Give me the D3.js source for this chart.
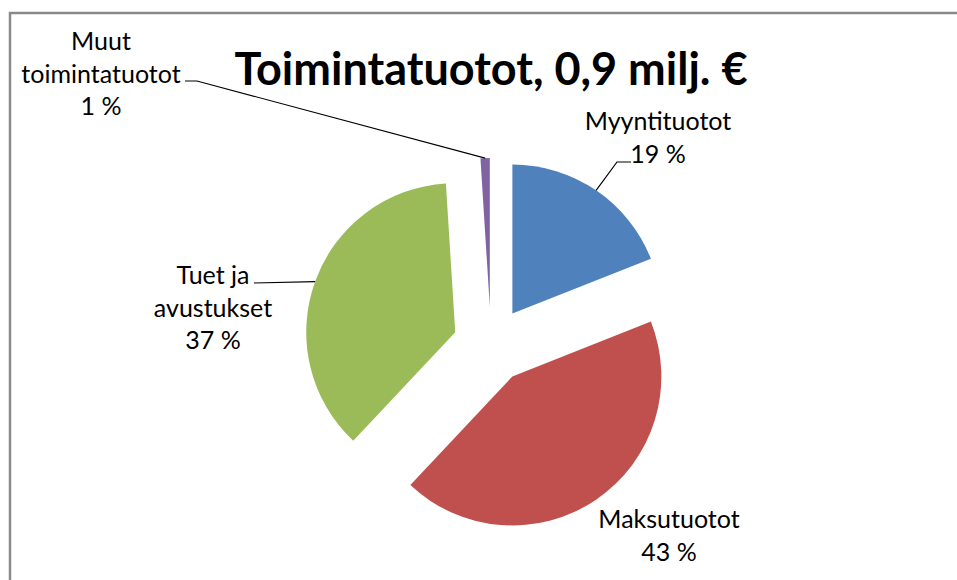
<!DOCTYPE html>
<html>
<head>
<meta charset="utf-8">
<script src="https://cdn.jsdelivr.net/npm/d3@7"></script>
<style>
  body { margin: 0; background: #fff; }
  svg { display: block; }
  text { font-family: Lato, "Open Sans", sans-serif; }
</style>
</head>
<body>
<svg id="chart" width="957" height="580"></svg>
<script>
// data
const title = 'Toimintatuotot, 0,9 milj. €'
const categories = ['Myyntituotot', 'Maksutuotot', 'Tuet ja avustukset', 'Muut toimintatuotot']
const shares = [19, 43, 37, 1]
const colors = ['#4f81bd', '#c0504d', '#9bbb59', '#8064a2']

// label layout: lines, anchor point, leader elbow points (null = no leader)
const labelLines = [['Myyntituotot', '19 %'], ['Maksutuotot', '43 %'], ['Tuet ja', 'avustukset', '37 %'], ['Muut', 'toimintatuotot', '1 %']]
const labelPos = [[658, 130], [669, 528], [213, 284], [101, 50]]
const leaders = [[[617, 162], [631, 162]], null, [[254, 283]], [[197, 81], [185, 81]]]

const cx = 491, cy = 345, radius = 149, explode = 38

const svg = d3.select('#chart')

svg.append('rect')
  .attr('x', 10).attr('y', 13)
  .attr('width', 1000).attr('height', 700)
  .attr('fill', 'none')
  .attr('stroke', '#8a8a8a')
  .attr('stroke-width', 2.5)

svg.append('text')
  .attr('x', cx).attr('y', 85)
  .attr('text-anchor', 'middle')
  .attr('font-size', 45)
  .attr('font-weight', 'bold')
  .attr('fill', '#000')
  .text(title)

const pie = d3.pie().sort(null).value(d => d)
const arcs = pie(shares)
const arc = d3.arc().innerRadius(0).outerRadius(radius)
const edge = d3.arc().innerRadius(radius).outerRadius(radius)

const offset = d => {
  const mid = (d.startAngle + d.endAngle) / 2
  return [Math.sin(mid) * explode, -Math.cos(mid) * explode]
}

const g = svg.append('g').attr('transform', `translate(${cx},${cy})`)

g.selectAll('path.slice')
  .data(arcs)
  .enter()
  .append('path')
  .attr('class', 'slice')
  .attr('d', arc)
  .attr('fill', (d, i) => colors[i])
  .attr('transform', d => `translate(${offset(d)})`)

// leader lines
arcs.forEach((d, i) => {
  if (!leaders[i]) return
  const [ox, oy] = offset(d)
  const [ex, ey] = edge.centroid(d)
  const pts = [[cx + ox + ex, cy + oy + ey], ...leaders[i]]
  svg.append('path')
    .attr('d', d3.line()(pts))
    .attr('fill', 'none')
    .attr('stroke', '#000')
    .attr('stroke-width', 1.2)
})

// labels
labelLines.forEach((lines, i) => {
  const t = svg.append('text')
    .attr('x', labelPos[i][0])
    .attr('y', labelPos[i][1])
    .attr('text-anchor', 'middle')
    .attr('font-size', 25)
    .attr('fill', '#000')
  lines.forEach((s, j) => {
    t.append('tspan')
      .attr('x', labelPos[i][0])
      .attr('dy', j ? 32.5 : 0)
      .text(s)
  })
})
</script>
</body>
</html>
